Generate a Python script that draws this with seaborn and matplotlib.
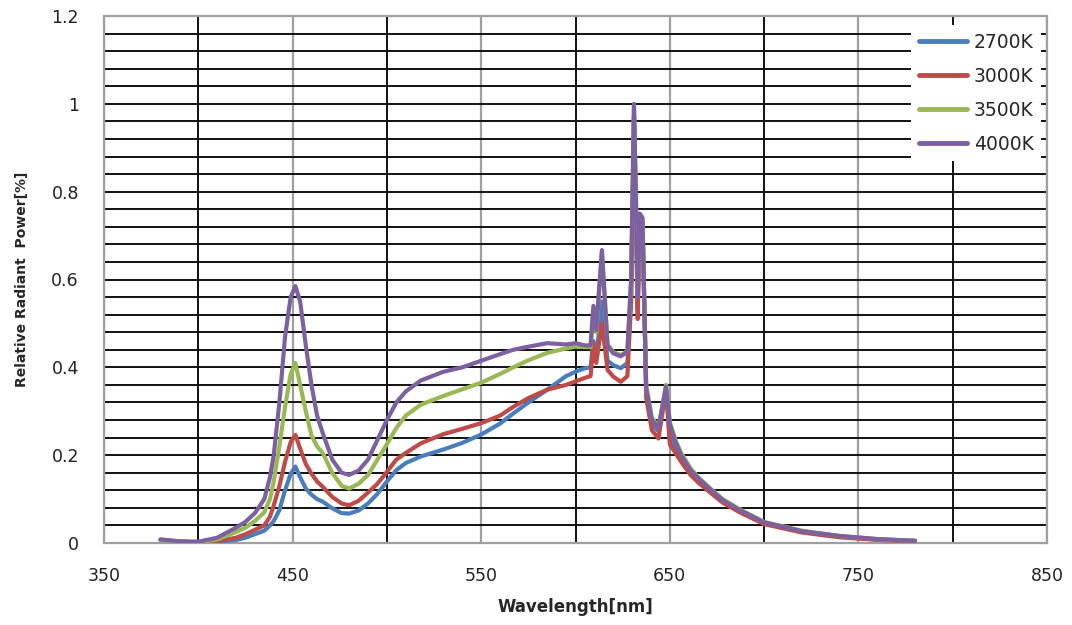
import numpy as np
import pandas as pd
import matplotlib
matplotlib.use('Agg')
import matplotlib.pyplot as plt
import seaborn as sns

# wavelengths (nm)
wavelength = [380, 390, 400, 410, 420, 425, 430, 435, 438, 440, 443, 446, 449, 451.5, 454, 457, 460,
              463, 466, 471, 476, 480, 485, 490, 495, 500, 505, 510, 518, 530, 540, 550, 560, 567,
              575, 585, 595, 600, 605, 608, 609.5, 611, 614, 617, 620, 624, 627.5, 629.5, 631, 632,
              633, 634, 635.5, 637.5, 640.5, 644, 648, 650, 653, 656, 661, 665, 670, 678, 687, 700,
              720, 740, 760, 780]

p2700 = [.006, .003, .001, .003, .007, .012, .02, .028, .04, .05, .075, .12, .158, .174, .15, .124, .11,
         .10, .094, .079, .068, .067, .074, .09, .112, .14, .166, .182, .197, .213, .228, .247, .272,
         .295, .32, .349, .38, .39, .398, .40, .46, .42, .55, .415, .405, .398, .41, .56, .96, .76,
         .53, .74, .73, .34, .27, .255, .35, .24, .215, .195, .162, .145, .126, .097, .074, .046,
         .026, .015, .008, .005]

p3000 = [.008, .003, .001, .004, .012, .02, .03, .04, .06, .085, .13, .185, .23, .246, .215, .18, .158,
         .14, .128, .105, .09, .086, .096, .115, .135, .162, .19, .205, .227, .248, .26, .273, .29,
         .31, .33, .349, .36, .368, .376, .38, .455, .41, .50, .394, .379, .367, .38, .55, .97, .75,
         .51, .74, .73, .33, .257, .238, .35, .225, .205, .185, .155, .138, .12, .092, .07, .043,
         .024, .013, .007, .004]

p3500 = [.006, .003, .002, .008, .025, .035, .05, .07, .10, .14, .22, .31, .385, .41, .36, .30, .245,
         .22, .205, .16, .13, .124, .135, .155, .19, .225, .262, .29, .315, .335, .35, .365, .385,
         .40, .416, .433, .443, .447, .446, .446, .53, .48, .66, .452, .435, .428, .437, .60, .99, .80,
         .56, .75, .74, .36, .285, .265, .36, .275, .235, .205, .17, .15, .13, .10, .077, .048,
         .028, .016, .009, .005]

p4000 = [.008, .004, .003, .012, .035, .048, .068, .10, .15, .20, .32, .47, .56, .585, .55, .45, .36,
         .29, .25, .19, .16, .155, .165, .19, .235, .28, .32, .345, .37, .39, .40, .415, .43,
         .44, .447, .455, .452, .455, .45, .45, .54, .485, .667, .45, .432, .425, .435, .60, 1.0, .80,
         .56, .75, .74, .35, .28, .262, .356, .27, .23, .20, .166, .148, .128, .098, .075, .047,
         .027, .016, .009, .005]

series = ['2700K', '3000K', '3500K', '4000K']
colors = ['#4a7ebb', '#be4b48', '#98b954', '#7d60a0']

x_ticks = [350, 450, 550, 650, 750, 850]
y_ticks = [0, 0.2, 0.4, 0.6, 0.8, 1.0, 1.2]
y_labels = ['0', '0.2', '0.4', '0.6', '0.8', '1', '1.2']

frames = []
for name, vals in zip(series, [p2700, p3000, p3500, p4000]):
    frames.append(pd.DataFrame({'wl': wavelength, 'power': vals, 'cct': name}))
df = pd.concat(frames, ignore_index=True)

sns.set_style('white')
plt.rcParams['font.family'] = ['DejaVu Sans']

fig = plt.figure(figsize=(10.72, 6.25), dpi=100)
ax = fig.add_axes([0.097, 0.1312, 0.8797, 0.8432])

sns.lineplot(data=df, x='wl', y='power', hue='cct', palette=colors, linewidth=3,
             estimator=None, sort=False, ax=ax, zorder=3)

ax.set_xlim(350, 850)
ax.set_ylim(0, 1.2)
ax.set_xticks(x_ticks)
ax.set_xticks(np.arange(400, 801, 100), minor=True)
ax.set_yticks(y_ticks)
ax.set_yticklabels(y_labels)
ax.set_yticks(np.arange(0, 1.2001, 0.04), minor=True)

ax.grid(which='major', axis='x', color='#a0a0a0', linewidth=1.6)
ax.grid(which='minor', axis='x', color='#111111', linewidth=1.4)
ax.grid(which='both', axis='y', color='#111111', linewidth=1.4)
ax.set_axisbelow(True)

ax.tick_params(which='both', length=0)
ax.tick_params(axis='x', pad=17, labelsize=12.5, labelcolor='#222222')
ax.tick_params(axis='y', pad=18, labelsize=12.5, labelcolor='#222222')

for s in ax.spines.values():
    s.set_color('#a0a0a0')
    s.set_linewidth(1.6)

ax.set_xlabel('Wavelength[nm]', fontsize=12, fontweight='bold', labelpad=10)
ax.set_ylabel('Relative Radiant  Power[%]', fontsize=10, fontweight='bold', labelpad=16)

leg = ax.legend(loc='upper right', bbox_to_anchor=(0.994, 0.982), borderaxespad=0,
                frameon=True, facecolor='white', edgecolor='none', framealpha=1,
                fontsize=13.5, handlelength=2.6, labelspacing=0.8, handletextpad=0.35,
                title=None)
for line in leg.get_lines():
    line.set_linewidth(3.5)

fig.savefig('out.png', dpi=100)
